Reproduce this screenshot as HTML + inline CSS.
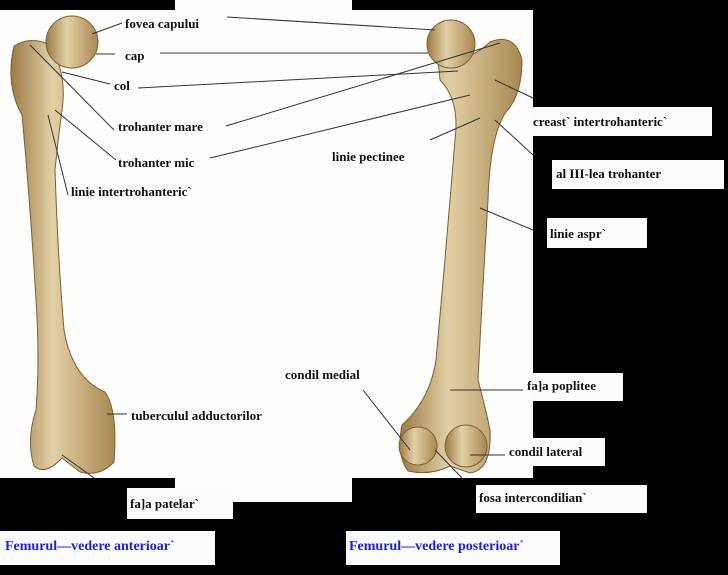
<!DOCTYPE html>
<html><head><meta charset="utf-8"><style>
body{margin:0;width:728px;height:575px;background:#000;overflow:hidden;position:relative;font-family:"Liberation Serif",serif;}
.w{position:absolute;background:#fdfdfb;}
.t{position:absolute;font-size:13px;font-weight:bold;color:#111;white-space:nowrap;}
.b{position:absolute;background:#fbfbfb;}
.c{position:absolute;font-size:14px;font-weight:bold;color:#1a1aff;white-space:nowrap;}
svg{position:absolute;left:0;top:0}
</style></head><body>
<div class="w" style="left:175px;top:0;width:177px;height:502px"></div>
<div class="w" style="left:0;top:10px;width:533px;height:468px"></div>
<div class="b" style="left:533px;top:107px;width:179px;height:29px"></div>
<div class="b" style="left:552px;top:160px;width:172px;height:29px"></div>
<div class="b" style="left:547px;top:218px;width:100px;height:30px"></div>
<div class="b" style="left:533px;top:373px;width:90px;height:28px"></div>
<div class="b" style="left:533px;top:438px;width:72px;height:28px"></div>
<div class="b" style="left:476px;top:485px;width:171px;height:28px"></div>
<div class="b" style="left:127px;top:488px;width:106px;height:31px"></div>
<div class="b" style="left:0;top:531px;width:215px;height:34px"></div>
<div class="b" style="left:346px;top:531px;width:214px;height:34px"></div>
<svg width="728" height="575">
<defs><linearGradient id="g" x1="0" x2="1"><stop offset="0" stop-color="#9a7a44"/><stop offset=".4" stop-color="#e2d0a6"/><stop offset="1" stop-color="#a88850"/></linearGradient></defs>
<g fill="url(#g)" stroke="#7a6038" stroke-width="1">
<path d="M14,46 Q30,36 48,44 L58,62 Q66,85 62,110 Q58,140 55,170 Q58,260 64,330 Q72,378 105,392 Q118,410 114,462 Q100,477 80,472 L62,458 Q45,476 34,466 Q26,440 36,410 Q40,360 36,300 Q30,200 22,115 Q5,85 14,46Z"/>
<circle cx="72" cy="42" r="26"/>
<path d="M438,60 Q470,62 490,42 Q515,32 522,60 Q522,95 506,112 Q490,135 488,200 Q482,300 478,380 Q486,410 490,430 Q492,470 470,473 L450,466 Q430,476 408,471 Q396,455 402,425 Q430,400 436,360 Q446,250 455,140 Q460,100 440,80Z"/>
<circle cx="451" cy="44" r="24"/>
<circle cx="466" cy="446" r="21"/>
<circle cx="418" cy="446" r="19"/>
</g>
<g stroke="#333" stroke-width="1" fill="none">
<line x1="92" y1="34" x2="122" y2="23"/>
<line x1="96" y1="54" x2="115" y2="54"/>
<line x1="62" y1="72" x2="110" y2="84"/>
<line x1="30" y1="45" x2="114" y2="130"/>
<line x1="55" y1="110" x2="116" y2="160"/>
<line x1="48" y1="115" x2="68" y2="195"/>
<line x1="107" y1="414" x2="127" y2="414"/>
<line x1="62" y1="455" x2="94" y2="478"/>
<line x1="227" y1="17" x2="435" y2="30"/>
<line x1="160" y1="53" x2="428" y2="53"/>
<line x1="138" y1="88" x2="458" y2="71"/>
<line x1="226" y1="126" x2="500" y2="43"/>
<line x1="210" y1="158" x2="470" y2="95"/>
<line x1="430" y1="140" x2="480" y2="118"/>
<line x1="495" y1="80" x2="533" y2="98"/>
<line x1="495" y1="120" x2="533" y2="155"/>
<line x1="480" y1="208" x2="533" y2="230"/>
<line x1="450" y1="390" x2="523" y2="390"/>
<line x1="363" y1="390" x2="410" y2="450"/>
<line x1="470" y1="455" x2="505" y2="455"/>
<line x1="435" y1="450" x2="462" y2="478"/>
</g>
</svg>
<div class="t" style="left:125px;top:16px">fovea capului</div>
<div class="t" style="left:125px;top:48px">cap</div>
<div class="t" style="left:114px;top:78px">col</div>
<div class="t" style="left:118px;top:119px">trohanter mare</div>
<div class="t" style="left:118px;top:155px">trohanter mic</div>
<div class="t" style="left:71px;top:184px">linie intertrohanteric`</div>
<div class="t" style="left:332px;top:149px">linie pectinee</div>
<div class="t" style="left:533px;top:114px">creast` intertrohanteric`</div>
<div class="t" style="left:556px;top:166px">al III-lea trohanter</div>
<div class="t" style="left:550px;top:226px">linie aspr`</div>
<div class="t" style="left:285px;top:367px">condil medial</div>
<div class="t" style="left:527px;top:378px">fa]a poplitee</div>
<div class="t" style="left:131px;top:408px">tuberculul adductorilor</div>
<div class="t" style="left:509px;top:444px">condil lateral</div>
<div class="t" style="left:479px;top:490px">fosa intercondilian`</div>
<div class="t" style="left:130px;top:496px">fa]a patelar`</div>
<div class="c" style="left:5px;top:539px">Femurul—vedere anterioar`</div>
<div class="c" style="left:349px;top:539px">Femurul—vedere posterioar`</div>
</body></html>
